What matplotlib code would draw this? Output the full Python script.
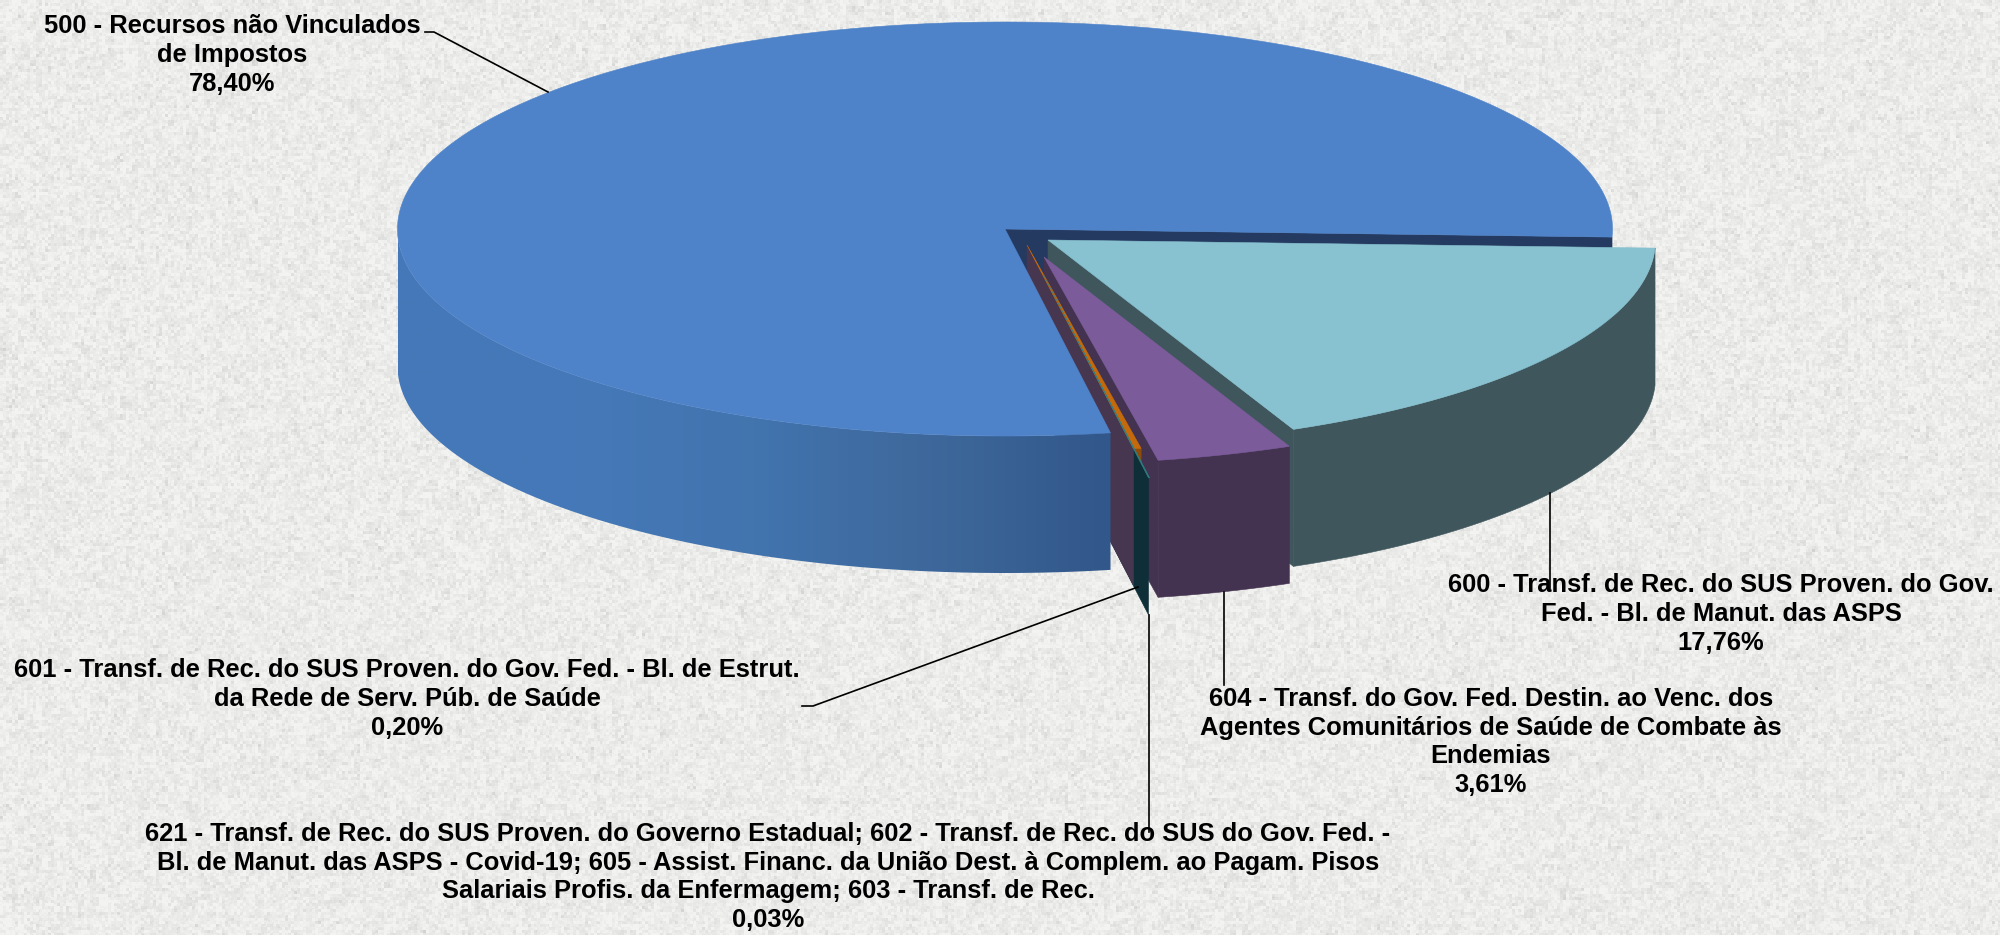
import numpy as np
import matplotlib
matplotlib.use("Agg")
import matplotlib.pyplot as plt
from matplotlib.patches import Polygon
from matplotlib.colors import LinearSegmentedColormap

plt.rcParams['font.family'] = ['Liberation Sans', 'DejaVu Sans']

# Chart data
LABELS = [
    "500 - Recursos não Vinculados\nde Impostos\n78,40%",
    "600 - Transf. de Rec. do SUS Proven. do Gov.\nFed. - Bl. de Manut. das ASPS\n17,76%",
    "604 - Transf. do Gov. Fed. Destin. ao Venc. dos\nAgentes Comunitários de Saúde de Combate às\nEndemias\n3,61%",
    "601 - Transf. de Rec. do SUS Proven. do Gov. Fed. - Bl. de Estrut.\nda Rede de Serv. Púb. de Saúde\n0,20%",
    "621 - Transf. de Rec. do SUS Proven. do Governo Estadual; 602 - Transf. de Rec. do SUS do Gov. Fed. -\n"
    "Bl. de Manut. das ASPS - Covid-19; 605 - Assist. Financ. da União Dest. à Complem. ao Pagam. Pisos\n"
    "Salariais Profis. da Enfermagem; 603 - Transf. de Rec.\n0,03%",
]
VALUES = [78.40, 17.76, 3.61, 0.20, 0.03]

# Pie geometry, in figure pixels
CX, CY = 1005, 229
RX, RY = 607.5, 207
DEPTH = 137
START = -80.0  # where the first slice starts, going clockwise on screen
SHIFTS = [(0, 0), (43, 11), (39, 28), (22, 16), (38, 45)]

TOP_COLORS = ["#4f83c9", "#88c1cf", "#7c5b9b", "#c56a0c", "#2f7f86"]
WALL_COLORS = ["#243a60", "#3f565c", "#433250", "#8f4c08", "#0e2e38"]
SIDE_WALL = ["#243a60", "#3f565c", "#433250", "#463650", "#0e2e38"]
MAIN_SIDE = ["#4478b8", "#4579b8", "#4274ae", "#3e689b", "#32578a"]

LABEL_POS = [(232, 55), (1721, 614), (1491, 742), (407, 699), (768, 877)]
LEADERS = [
    [(425, 32), (434, 32), (548, 92)],
    [(1550, 493), (1550, 590)],
    [(1224, 592), (1224, 685)],
    [(802, 706), (813, 706), (1138, 587)],
    [(1148.5, 615), (1148.5, 832)],
]


def slice_angles():
    # clockwise from START, slice by slice
    ends = START - np.cumsum(VALUES) * 3.6
    starts = np.concatenate([[START], ends[:-1]])
    return starts, ends


def rim(i, t):
    dx, dy = SHIFTS[i]
    t = np.radians(t)
    return np.column_stack([CX + dx + RX * np.cos(t), CY + dy - RY * np.sin(t)])


def apex(i):
    return np.array([[CX + SHIFTS[i][0], CY + SHIFTS[i][1]]])


def arc(i, a, b):
    n = max(int(abs(a - b) * 2), 2)
    return rim(i, np.linspace(a, b, n))


def down(pts):
    return pts + np.array([0, DEPTH])


def draw_top(ax, i):
    a, b = starts[i], ends[i]
    ax.add_patch(Polygon(np.vstack([apex(i), arc(i, a, b)]), fc=TOP_COLORS[i], ec=TOP_COLORS[i], lw=0.4))


def draw_cut(ax, i, t):
    # flat wall along one straight edge of a slice
    edge = np.vstack([apex(i), rim(i, t)])
    ax.add_patch(Polygon(np.vstack([edge, down(edge)[::-1]]), fc=SIDE_WALL[i], ec=SIDE_WALL[i], lw=0.4))


def draw_outer(ax, i, a, b, color=None):
    pts = arc(i, a, b)
    ax.add_patch(Polygon(np.vstack([pts, down(pts)[::-1]]),
                         fc=color or WALL_COLORS[i], ec=color or WALL_COLORS[i], lw=0.4))


starts, ends = slice_angles()

fig = plt.figure(figsize=(20, 9.35), dpi=100)
ax = fig.add_axes([0, 0, 1, 1])
ax.set_xlim(0, 2000)
ax.set_ylim(935, 0)
ax.axis("off")

# Speckled paper background
rng = np.random.default_rng(7)
noise = np.zeros((935, 2000))
for step, amp in [(2, 0.3), (3, 0.8), (6, 0.5)]:
    coarse = rng.normal(size=(935 // step + 2, 2000 // step + 2))
    noise += amp * np.kron(coarse, np.ones((step, step)))[:935, :2000]
bg = np.clip(236 + 6.5 * np.minimum(noise, 1.2), 190, 247)
rgb = np.dstack([bg, bg, bg * 0.992]).astype(np.uint8)
ax.imshow(rgb, extent=(0, 2000, 935, 0), aspect="auto", interpolation="bicubic", zorder=0)
ax.set_xlim(0, 2000)
ax.set_ylim(935, 0)

# Back to front, so nearer faces hide the farther ones
draw_cut(ax, 0, starts[0] - 282.24 + 360)

draw_cut(ax, 1, ends[1])
draw_outer(ax, 1, starts[1], ends[1])
draw_top(ax, 1)

draw_cut(ax, 2, ends[2])
draw_outer(ax, 2, starts[2], ends[2])
draw_top(ax, 2)

draw_outer(ax, 3, starts[3], ends[3])
draw_cut(ax, 4, ends[4])
draw_cut(ax, 3, ends[3])
draw_top(ax, 3)
draw_top(ax, 4)

# Big slice: curved wall with a shaded band, then its top
visible = arc(0, 180, starts[0] + 360)
wall = Polygon(np.vstack([visible, down(visible)[::-1]]), fc="none", ec="none")
ax.add_patch(wall)
cmap = LinearSegmentedColormap.from_list("side", MAIN_SIDE)
shade = ax.imshow(np.linspace(0, 1, 256)[None, :], cmap=cmap, aspect="auto", zorder=1,
                  extent=(visible[:, 0].min(), visible[:, 0].max(), 935, 0))
shade.set_clip_path(wall)
ax.set_xlim(0, 2000)
ax.set_ylim(935, 0)
draw_top(ax, 0)

for pts in LEADERS:
    xs, ys = zip(*pts)
    ax.plot(xs, ys, color="black", lw=1.2, zorder=3)

for label, (x, y) in zip(LABELS, LABEL_POS):
    ax.text(x, y, label, ha="center", va="center", fontsize=18.4, fontweight="bold",
            color="black", linespacing=1.26, zorder=4)

fig.savefig("out.png", dpi=100)
